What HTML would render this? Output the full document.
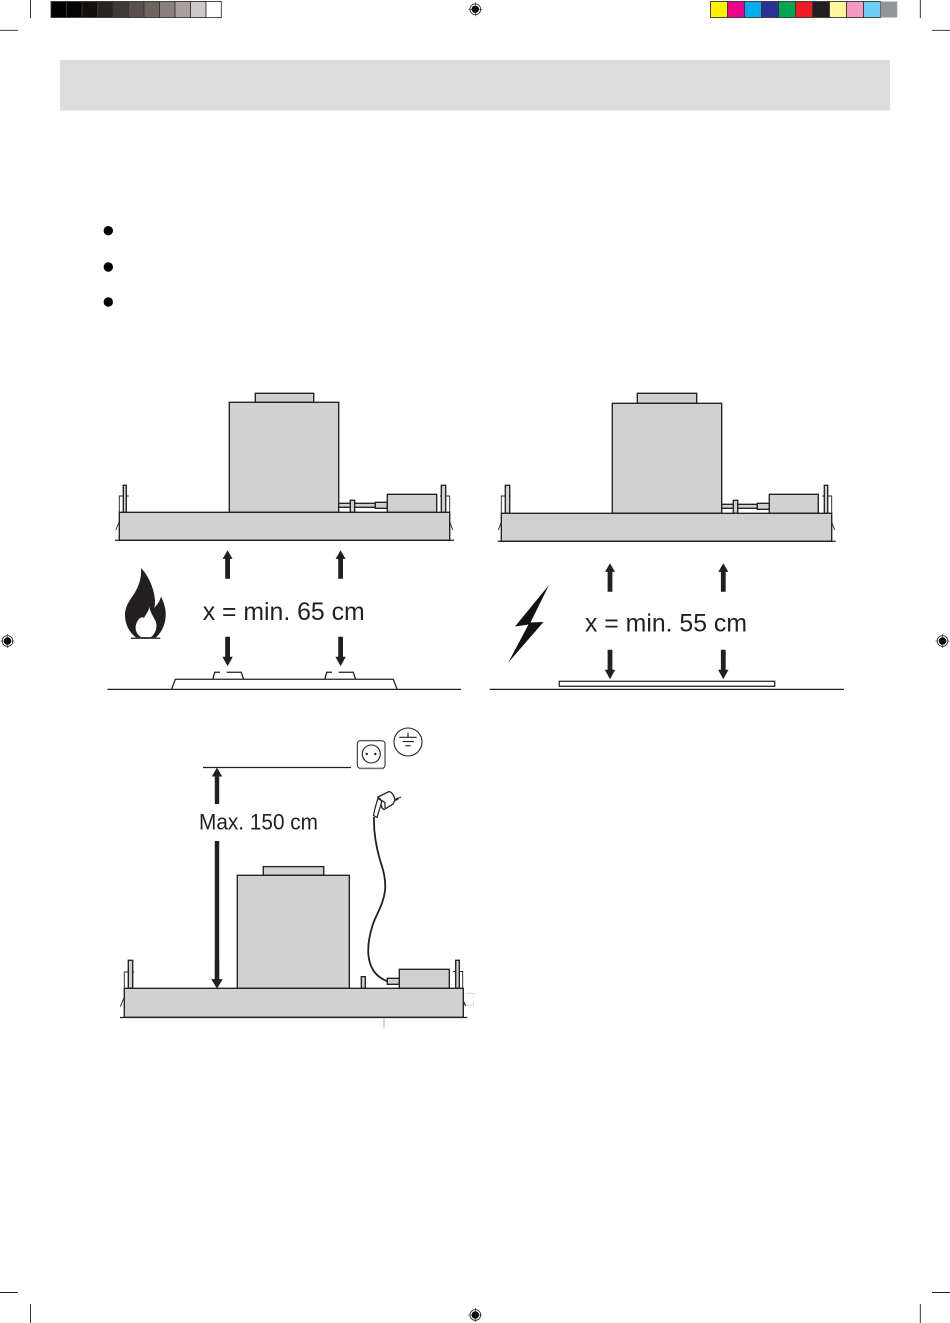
<!DOCTYPE html>
<html lang="en">
<head>
<meta charset="utf-8">
<title>Hood installation distances</title>
<style>
html,body{margin:0;padding:0;background:#fff;}
body{width:950px;height:1323px;overflow:hidden;}
svg{display:block;}
.o{fill:#d1d1d1;stroke:#231f20;stroke-width:1.35;}
.l{fill:none;stroke:#231f20;stroke-width:1.25;}
.t{fill:none;stroke:#231f20;stroke-width:.9;}
.c{fill:none;stroke:#231f20;stroke-width:1.1;}
.a{fill:#231f20;}
text{font-family:"Liberation Sans",sans-serif;fill:#231f20;}
</style>
</head>
<body>
<svg width="950" height="1323" viewBox="0 0 950 1323" xmlns="http://www.w3.org/2000/svg">
<defs>
  <g id="reg">
    <circle r="5.4" fill="none" stroke="#231f20" stroke-width=".8"/>
    <circle r="3.7" fill="#000"/>
    <path d="M-7 0H7M0-7V7" stroke="#231f20" stroke-width=".6"/>
  </g>
  <path id="up" class="a" d="M0 0L5 8.6H2.4V28.5H-2.4V8.6H-5Z"/>
  <path id="dn" class="a" d="M-2.4 0H2.4V20H5.2L0 29.5L-5.2 20H-2.4Z"/>
</defs>

<!-- colour bars -->
<g stroke="#3a3636" stroke-width=".9">
  <rect x="51" y="1.5" width="15.5" height="16" fill="#000"/>
  <rect x="66.5" y="1.5" width="15.5" height="16" fill="#040404"/>
  <rect x="82" y="1.5" width="15.5" height="16" fill="#14100c"/>
  <rect x="97.5" y="1.5" width="15.5" height="16" fill="#2a2522"/>
  <rect x="113" y="1.5" width="15.5" height="16" fill="#3e3a38"/>
  <rect x="128.5" y="1.5" width="15.5" height="16" fill="#59504d"/>
  <rect x="144" y="1.5" width="15.5" height="16" fill="#6e6460"/>
  <rect x="159.5" y="1.5" width="15.5" height="16" fill="#8a7f7c"/>
  <rect x="175" y="1.5" width="15.5" height="16" fill="#a8a19e"/>
  <rect x="190.5" y="1.5" width="15.5" height="16" fill="#cdc9c8"/>
  <rect x="206" y="1.5" width="15.3" height="16" fill="#fff"/>

  <rect x="710.5" y="1.5" width="17" height="16" fill="#fff200"/>
  <rect x="727.5" y="1.5" width="17" height="16" fill="#ec008c"/>
  <rect x="744.5" y="1.5" width="17" height="16" fill="#00aeef"/>
  <rect x="761.5" y="1.5" width="17" height="16" fill="#2e3192"/>
  <rect x="778.5" y="1.5" width="17" height="16" fill="#00a651"/>
  <rect x="795.5" y="1.5" width="17" height="16" fill="#ed1c24"/>
  <rect x="812.5" y="1.5" width="17" height="16" fill="#231f20"/>
  <rect x="829.5" y="1.5" width="17" height="16" fill="#fff799"/>
  <rect x="846.5" y="1.5" width="17" height="16" fill="#f49ac1"/>
  <rect x="863.5" y="1.5" width="17" height="16" fill="#6dcff6"/>
  <rect x="880.5" y="1.5" width="16.8" height="16" fill="#939598" stroke="none"/>
</g>

<!-- crop marks -->
<path d="M30.5 0V18M0 30.3H18M920.3 0V18M932 30.3H950M0 1292.5H18M30.5 1304V1323M932 1292.5H950M920.3 1304V1323" stroke="#231f20" stroke-width=".9" fill="none"/>

<!-- registration marks -->
<use href="#reg" x="475.3" y="9.3"/>
<use href="#reg" x="475.3" y="1315"/>
<use href="#reg" x="7.5" y="641"/>
<use href="#reg" x="942.5" y="641"/>

<!-- header band -->
<rect x="60" y="60" width="830" height="50.5" fill="#dcdcdc"/>

<!-- bullets -->
<circle cx="108.3" cy="230.7" r="4.7" fill="#000"/>
<circle cx="108.3" cy="267" r="4.7" fill="#000"/>
<circle cx="108.3" cy="302" r="4.7" fill="#000"/>

<!-- LEFT DIAGRAM (gas) -->
<path class="t" d="M119.3 512V496H128.7M440 496H449.7V512"/>
<path class="t" d="M119.3 521.7L115.7 530M449.7 521.7L452.7 530"/>
<rect class="o" x="123.3" y="485.3" width="3" height="27"/>
<rect class="o" x="441.3" y="485.3" width="4.4" height="27"/>
<rect class="o" x="255.3" y="393.3" width="58.4" height="9"/>
<rect class="o" x="229.3" y="402.3" width="109.4" height="110"/>
<rect class="o" x="338.7" y="503.3" width="36.6" height="4"/>
<rect class="o" x="350.3" y="500.3" width="4.4" height="12"/>
<rect class="o" x="375.3" y="502.3" width="12" height="6"/>
<rect class="o" x="387.3" y="494.3" width="49.4" height="18"/>
<rect class="o" x="119.3" y="512.3" width="330.4" height="28"/>
<path class="l" d="M115 540.3H454"/>

<use href="#up" x="227.6" y="550.3"/>
<use href="#up" x="340.6" y="550.3"/>
<use href="#dn" x="227.6" y="636.7"/>
<use href="#dn" x="340.6" y="636.7"/>

<text x="202.7" y="620" font-size="25" textLength="162" lengthAdjust="spacingAndGlyphs">x = min. 65 cm</text>

<!-- flame -->
<path fill="#231f20" d="M141 568C148 575 154 588 155 600C155 604 155 606 154 608C157 605 160 601 161 596.5C164 603 166 609 165.7 615C165.5 624 162 632 156 637.5H136C129 632 125 624 125 615C125 606 130 600 134 594C138 588 142 578 141 568Z"/>
<path fill="#fff" d="M149.3 606.5C150 612 153 616 155.5 621C158 628 155 634 151 637H141C136 634 134 628 137 622C139 618 142 616 144 618C146 614 149 611 149.3 606.5Z"/>
<path class="l" d="M131 638.3H160.3"/>

<!-- cooktop -->
<path class="l" d="M107.3 689.4H461"/>
<path class="l" d="M171.7 689L175.3 679.3H393.3L397 689"/>
<path class="l" d="M212.7 679.3L214.7 672.3H220M226.7 672.3H241.3L243.7 679.3"/>
<path class="l" d="M324.7 679.3L326.7 672.3H332M338.7 672.3H353.3L355.7 679.3"/>

<!-- RIGHT DIAGRAM (electric) -->
<path class="t" d="M501.3 513V496H510.7M822.3 496H831.7V513"/>
<path class="t" d="M501.3 522L498.3 530M831.7 522L834.7 530"/>
<rect class="o" x="505.3" y="485.3" width="4.4" height="28"/>
<rect class="o" x="824.3" y="485.3" width="3.4" height="28"/>
<rect class="o" x="637.3" y="393.3" width="59.4" height="10"/>
<rect class="o" x="612.3" y="403.3" width="109.4" height="110"/>
<rect class="o" x="721.7" y="504.3" width="35.6" height="4"/>
<rect class="o" x="733.3" y="500.3" width="4.4" height="13"/>
<rect class="o" x="757.3" y="503.3" width="12" height="6"/>
<rect class="o" x="769.3" y="494.3" width="49" height="19"/>
<rect class="o" x="501.3" y="513.3" width="330.4" height="28"/>
<path class="l" d="M497.7 541.3H835.7"/>

<use href="#up" x="610" y="563.3"/>
<use href="#up" x="723.3" y="563.3"/>
<use href="#dn" x="610" y="649.7"/>
<use href="#dn" x="723.3" y="649.7"/>

<text x="585" y="631.7" font-size="25" textLength="162" lengthAdjust="spacingAndGlyphs">x = min. 55 cm</text>

<polygon fill="#111" points="549,585 515,626.5 528.5,624.5 508.3,662.5 543.5,622 530.5,622.5"/>

<rect x="559.3" y="681.3" width="215.4" height="5" fill="#fff" stroke="#231f20" stroke-width="1.25"/>
<path class="l" d="M489.7 689.4H844"/>

<!-- BOTTOM DIAGRAM -->
<path class="l" d="M203 767.5H351"/>
<path class="a" d="M217 767.5L222.2 776.5H219.2V804H214.8V776.5H211.8Z"/>
<text x="199" y="829.5" font-size="22.5" textLength="119" lengthAdjust="spacingAndGlyphs">Max. 150 cm</text>
<path class="a" d="M214.8 841H219.2V979.3H222.6L217 988.5L211.4 979.3H214.8Z"/>

<!-- socket -->
<rect x="357.3" y="740.7" width="27.7" height="27.6" rx="3" fill="#fff" stroke="#231f20" stroke-width="1"/>
<path d="M359 768.8H384" stroke="#888" stroke-width="1"/>
<circle class="c" cx="371.3" cy="754" r="9"/>
<circle cx="366.7" cy="754" r="1.2" fill="#231f20"/>
<circle cx="375.3" cy="754" r="1.2" fill="#231f20"/>

<!-- earth -->
<circle class="c" cx="408" cy="742" r="14"/>
<path class="c" d="M408 732.7V737.3M399.3 737.3H416.7M402.7 741.6H414M405.3 745.7H410.7"/>

<!-- cable -->
<path fill="none" stroke="#231f20" stroke-width="1.8" d="M374 817C373.5 832 376 846 380 860C384 872 386 881 385 891C383 905 377 913 373 924C369 936 367.5 946 368.5 956C370 968 376 977 387.3 981.3"/>

<!-- plug -->
<path fill="#fff" stroke="#231f20" stroke-width="1.2" d="M373.5 815.5L377 817.5L382 801L378 798.5C376 804 374.5 810 373.5 815.5Z"/>
<path fill="#fff" stroke="#231f20" stroke-width="1.3" d="M378 797L389 791.5C392 792 394.5 796 395 800L393 804L384 809.5C381 808 380.5 804 382 801Z"/>
<path fill="none" stroke="#231f20" stroke-width="1.2" d="M381 800L385 802.5V808"/>
<path stroke="#231f20" stroke-width="2" d="M394.5 800.5L398.5 798.2"/>
<path stroke="#231f20" stroke-width="1" d="M398.5 798.2L401 797"/>

<!-- hood 3 -->
<path class="t" d="M124.3 988V972H134M453.3 971.5H462.7V988"/>
<path class="t" d="M124.3 997L120.3 1006.7"/>
<path class="l" d="M462.5 990V1000L466 1006"/>
<path d="M466 993.3H475.3M465.5 1005.3H473.5V1002" fill="none" stroke="#d0d0d0" stroke-width=".9"/>
<path d="M384 1018V1027.7" stroke="#c8c8c8" stroke-width="1.4"/>
<rect class="o" x="128.3" y="960.3" width="4.4" height="28"/>
<rect class="o" x="455.7" y="960.3" width="3.6" height="28"/>
<rect class="o" x="263.3" y="866.6" width="60.5" height="8.7"/>
<rect class="o" x="237.3" y="875.3" width="112" height="113"/>
<rect class="o" x="361.3" y="976.7" width="4" height="11.6"/>
<rect class="o" x="387.3" y="978.3" width="12" height="6"/>
<rect class="o" x="399.3" y="969.3" width="50" height="19"/>
<rect class="o" x="124.3" y="988.3" width="339" height="29"/>
<path class="l" d="M120 1017.5H467.3"/>
<path class="a" d="M214.8 960H219.2V979.3H222.6L217 988.5L211.4 979.3H214.8Z"/>
</svg>
</body>
</html>
